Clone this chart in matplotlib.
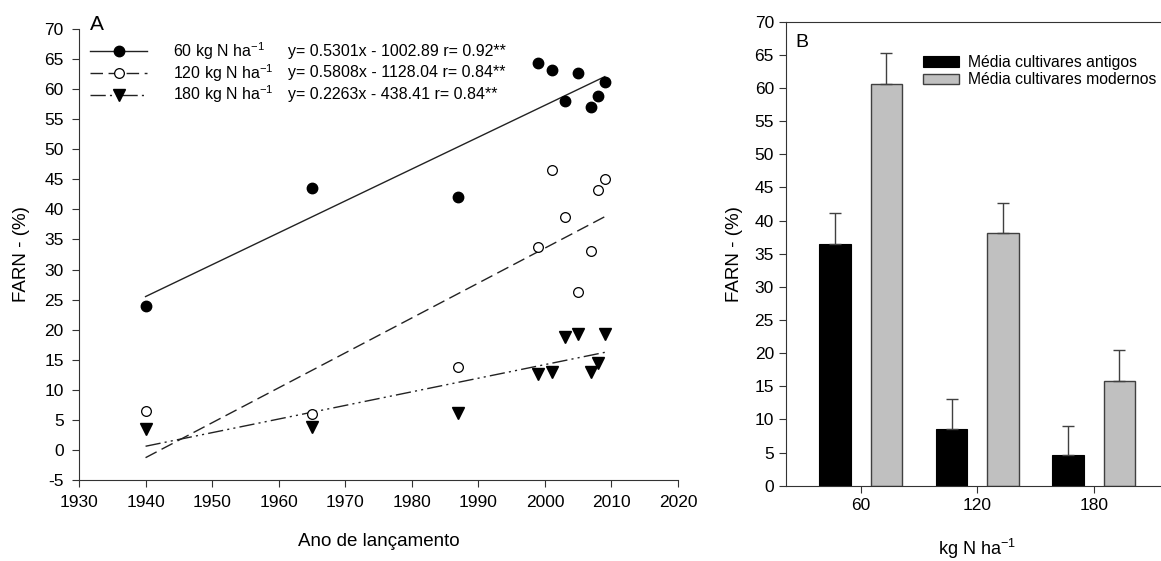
import matplotlib
matplotlib.use("Agg")
import matplotlib.pyplot as plt
import numpy as np

plt.rcParams['font.family'] = ['Liberation Sans', 'DejaVu Sans']
plt.rcParams['mathtext.fontset'] = 'custom'
plt.rcParams['mathtext.rm'] = 'Liberation Sans'
plt.rcParams['mathtext.it'] = 'Liberation Sans:italic'
plt.rcParams['axes.unicode_minus'] = False

# ---- Panel A data ----
years = [1940, 1965, 1987, 1999, 2001, 2003, 2005, 2007, 2008, 2009]
farn_60 = [23.9, 43.6, 42.1, 64.4, 63.2, 58.1, 62.6, 57.1, 58.8, 61.2]
farn_120 = [6.5, 6.0, 13.8, 33.7, 46.6, 38.8, 26.2, 33.1, 43.3, 45.1]
farn_180 = [3.4, 3.8, 6.1, 12.7, 12.9, 18.8, 19.3, 12.9, 14.4, 19.2]
series_labels = ["60 kg N ha$^{-1}$", "120 kg N ha$^{-1}$", "180 kg N ha$^{-1}$"]
slopes = [0.5301, 0.5808, 0.2263]
intercepts = [-1002.89, -1128.04, -438.41]
r_values = ["0.92**", "0.84**", "0.84**"]

# ---- Panel B data ----
doses = ["60", "120", "180"]
mean_old = [36.4, 8.6, 4.6]
err_old = [4.7, 4.45, 4.4]
mean_modern = [60.6, 38.1, 15.8]
err_modern = [4.75, 4.5, 4.6]
bar_labels = ["Média cultivares antigos", "Média cultivares modernos"]

W, H = 1161, 561
fig = plt.figure(figsize=(W / 100, H / 100), dpi=100)
spine_c = '#333333'

# ---------------- Panel A ----------------
axA = fig.add_axes([79 / W, 1 - 480 / H, (678 - 79) / W, (480 - 29) / H])
fits_x = np.array([min(years), max(years)])
series = [farn_60, farn_120, farn_180]
markers = [dict(marker='o', mfc='black', mec='black', ms=7.5),
           dict(marker='o', mfc='white', mec='black', ms=7, mew=0.9),
           dict(marker='v', mfc='black', mec='black', ms=8.5)]
styles = ['-', (0, (9, 4)), (0, (11, 3, 1.5, 3, 1.5, 3))]
handles = []
for vals, mk, ls, a, b, lab in zip(series, markers, styles, slopes, intercepts, series_labels):
    axA.plot(years, vals, linestyle='none', **mk, zorder=3)
    axA.plot(fits_x, a * fits_x + b, linestyle=ls, color='#222222', lw=1.0, zorder=2)
    h, = axA.plot([], [], linestyle=ls, color='#222222', lw=1.0, **mk)
    handles.append(h)

axA.set_xlim(1930, 2020)
axA.set_ylim(-5, 70)
axA.set_xticks(np.arange(1930, 2021, 10))
axA.set_yticks(np.arange(-5, 71, 5))
axA.spines['top'].set_visible(False)
axA.spines['right'].set_visible(False)
for s in ['left', 'bottom']:
    axA.spines[s].set_color(spine_c)
axA.tick_params(direction='out', length=5, color=spine_c, labelsize=12.5, pad=6)
axA.set_xlabel("Ano de lançamento", fontsize=13.5, labelpad=16)
axA.set_ylabel("FARN - (%)", fontsize=13.5, labelpad=10)
axA.text(0.018, 0.997, "A", transform=axA.transAxes, fontsize=15, va='baseline', ha='left')

leg = axA.legend(handles, series_labels, loc='upper left', bbox_to_anchor=(0.018, 0.975),
                 frameon=False, borderpad=0, borderaxespad=0, handlelength=3.6,
                 handletextpad=1.6, labelspacing=0.0, fontsize=11.5, numpoints=1)

# ---------------- Panel B ----------------
axB = fig.add_axes([785.7 / W, 1 - 485.7 / H, 383 / W, (485.7 - 21.7) / H])
x = np.arange(len(doses))
bw = 0.27
off = 0.22
axB.bar(x - off, mean_old, bw, color='black', edgecolor='black', lw=0.8,
        yerr=[np.zeros(len(x)), err_old], capsize=4.5,
        error_kw=dict(ecolor='#404040', elinewidth=1.0, capthick=1.0), label=bar_labels[0])
axB.bar(x + off, mean_modern, bw, color='#c0c0c0', edgecolor='#404040', lw=1.0,
        yerr=[np.zeros(len(x)), err_modern], capsize=4.5,
        error_kw=dict(ecolor='#404040', elinewidth=1.0, capthick=1.0), label=bar_labels[1])
axB.set_xlim(-0.644, 2.644)
axB.set_ylim(0, 70)
axB.set_yticks(np.arange(0, 71, 5))
axB.set_xticks(x)
axB.set_xticklabels(doses)
axB.spines['right'].set_visible(False)
for s in ['left', 'bottom', 'top']:
    axB.spines[s].set_color(spine_c)
axB.tick_params(direction='out', length=5, color=spine_c, labelsize=12.5)
axB.tick_params(axis='x', pad=4)
axB.set_xlabel("kg N ha$^{-1}$", fontsize=13, labelpad=17)
axB.set_ylabel("FARN - (%)", fontsize=13.5, labelpad=8)
axB.text(0.024, 0.945, "B", transform=axB.transAxes, fontsize=14, va='baseline', ha='left')
axB.legend(loc='upper left', bbox_to_anchor=(0.358, 0.928), frameon=False, borderpad=0,
           borderaxespad=0, handlelength=2.3, handleheight=0.65, handletextpad=0.55,
           labelspacing=0.15, fontsize=11.3)

# equations aligned with legend rows of panel A
fig.canvas.draw()
renderer = fig.canvas.get_renderer()
inv = axA.transAxes.inverted()
for t, a, b, r in zip(leg.get_texts(), slopes, intercepts, r_values):
    bb = t.get_window_extent(renderer)
    yc = inv.transform((0, (bb.y0 + bb.y1) / 2))[1]
    eq = f"y= {a:.4f}x - {abs(b):.2f} r= {r}"
    axA.text((288 - 79) / 599, yc, eq, transform=axA.transAxes, fontsize=11.5,
             va='center', ha='left')

fig.savefig("out.png", dpi=100)
